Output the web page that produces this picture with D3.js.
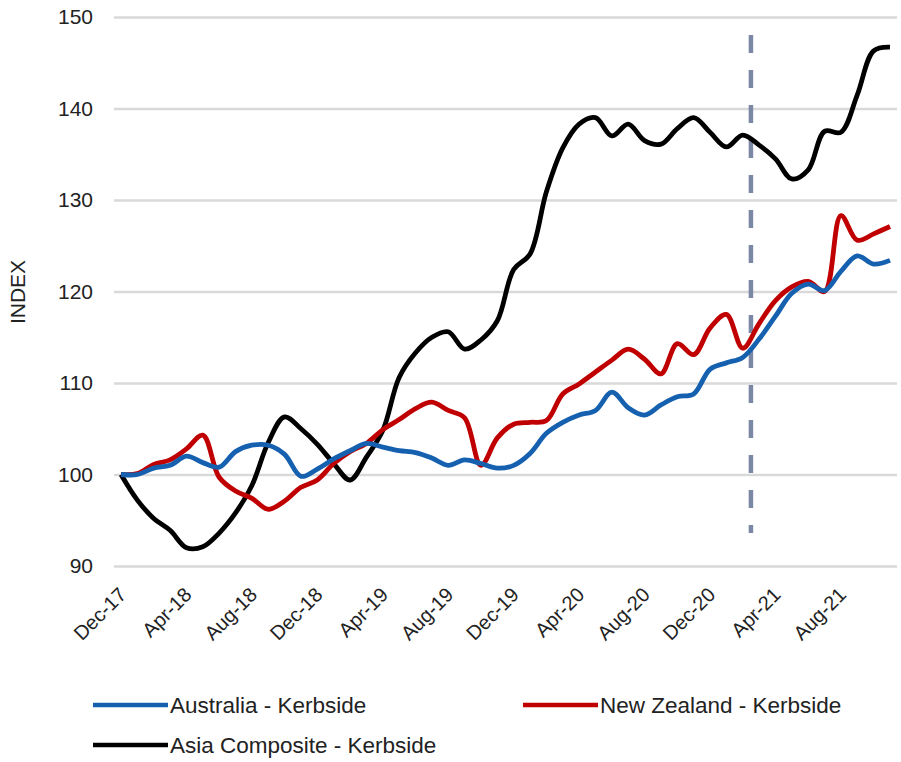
<!DOCTYPE html>
<html>
<head>
<meta charset="utf-8">
<script src="https://cdn.jsdelivr.net/npm/d3@7"></script>
<style>
  body { margin: 0; background: #fff; }
  text { font-family: "Liberation Sans", Arial, sans-serif; fill: #222; }
</style>
</head>
<body>
<svg id="chart"></svg>
<script>
const width = 901;
const height = 762;

// monthly categories, Dec-17 .. Nov-21
const months = [
    "Dec-17", "Jan-18", "Feb-18", "Mar-18", "Apr-18", "May-18", "Jun-18", "Jul-18", "Aug-18", "Sep-18", "Oct-18", "Nov-18",
    "Dec-18", "Jan-19", "Feb-19", "Mar-19", "Apr-19", "May-19", "Jun-19", "Jul-19", "Aug-19", "Sep-19", "Oct-19", "Nov-19",
    "Dec-19", "Jan-20", "Feb-20", "Mar-20", "Apr-20", "May-20", "Jun-20", "Jul-20", "Aug-20", "Sep-20", "Oct-20", "Nov-20",
    "Dec-20", "Jan-21", "Feb-21", "Mar-21", "Apr-21", "May-21", "Jun-21", "Jul-21", "Aug-21", "Sep-21", "Oct-21", "Nov-21"
];

const australia = [
    100, 100, 100.7, 101, 102, 101.3, 100.8, 102.5, 103.2, 103.2,
    102.2, 99.8, 100.6, 101.7, 102.6, 103.4, 103.0, 102.6, 102.4, 101.8,
    101.0, 101.6, 101.2, 100.7, 101.0, 102.3, 104.5, 105.7, 106.5, 107.0,
    109.0, 107.3, 106.5, 107.6, 108.5, 108.8, 111.5, 112.2, 112.8, 114.8,
    117.3, 119.8, 120.8, 120.1, 122.2, 123.9, 123.0, 123.4
];

const newZealand = [
    100, 100.1, 101.1, 101.6, 102.8, 104.3, 99.7, 98.2, 97.4, 96.2,
    97.1, 98.6, 99.4, 101.2, 102.5, 103.4, 104.9, 106.0, 107.2, 107.9,
    107.0, 106.2, 101.0, 104.0, 105.5, 105.7, 105.9, 108.8, 109.9, 111.2,
    112.5, 113.7, 112.6, 111.0, 114.3, 113.1, 116.0, 117.5, 113.8, 116.5,
    119.0, 120.5, 121.1, 120.0, 128.3, 125.6, 126.3, 127.1
];

const asiaComposite = [
    100, 97.2, 95.2, 93.9, 92.0, 92.1, 93.6, 95.8, 98.8, 103.5,
    106.3, 105.0, 103.3, 101.2, 99.4, 101.9, 104.8, 110.6, 113.3, 115.0,
    115.6, 113.7, 114.7, 116.8, 122.4, 124.1, 130.9, 135.7, 138.3, 139.0,
    137.0, 138.3, 136.5, 136.1, 137.8, 139.0, 137.4, 135.8, 137.1, 136.0,
    134.5, 132.3, 133.3, 137.5, 137.4, 141.5, 146.3, 146.7
];

const xTickLabels = ["Dec-17", "Apr-18", "Aug-18", "Dec-18", "Apr-19", "Aug-19", "Dec-19", "Apr-20", "Aug-20", "Dec-20", "Apr-21", "Aug-21"];
const yTicks = [90, 100, 110, 120, 130, 140, 150];

// vertical dashed marker sits between these two months
const markerBetween = ["Feb-21", "Mar-21"];

const series = [
    { name: "Australia - Kerbside", values: australia, color: "#1660b0" },
    { name: "New Zealand - Kerbside", values: newZealand, color: "#c00000" },
    { name: "Asia Composite - Kerbside", values: asiaComposite, color: "#000000" }
];

const plot = { left: 114, right: 897, top: 17, bottom: 566 };

const x = d3.scaleLinear()
    .domain([0, months.length - 1])
    .range([121, 890]);

const y = d3.scaleLinear()
    .domain([90, 150])
    .range([plot.bottom, plot.top]);

const svg = d3.select("#chart").attr("width", width).attr("height", height);

// gridlines + y labels
const yAxis = svg.append("g")
    .attr("transform", `translate(${plot.left},0)`)
    .call(d3.axisLeft(y).tickValues(yTicks).tickSize(-(plot.right - plot.left)).tickPadding(21).tickFormat(d3.format("d")));
yAxis.select(".domain").remove();
yAxis.selectAll(".tick line").attr("stroke", "#d9d9d9").attr("stroke-width", 2.5);
yAxis.selectAll(".tick text").style("font-size", "21px").attr("fill", "#222");

svg.append("text")
    .attr("transform", `translate(25,292) rotate(-90)`)
    .attr("text-anchor", "middle")
    .style("font-size", "21px")
    .text("INDEX");

// x labels
const xAxis = svg.append("g")
    .attr("transform", `translate(0,${plot.bottom})`)
    .call(d3.axisBottom(x).tickValues(xTickLabels.map(m => months.indexOf(m))).tickSize(0).tickFormat(i => months[i]));
xAxis.select(".domain").remove();
xAxis.selectAll(".tick text")
    .style("font-size", "20px")
    .attr("fill", "#222")
    .attr("text-anchor", "end")
    .attr("dy", null)
    .attr("y", 0)
    .attr("transform", "translate(6,30) rotate(-45)");

// dashed marker
const markerX = (x(months.indexOf(markerBetween[0])) + x(months.indexOf(markerBetween[1]))) / 2;
svg.append("line")
    .attr("x1", markerX).attr("x2", markerX)
    .attr("y1", 35).attr("y2", 533)
    .attr("stroke", "#7a88a6")
    .attr("stroke-width", 4.5)
    .attr("stroke-dasharray", "18,17");

const line = d3.line()
    .x((d, i) => x(i))
    .y(d => y(d))
    .curve(d3.curveCatmullRom);

// draw black first so colored lines stay visible like the original
svg.selectAll(".series")
    .data(series.slice().reverse())
    .enter().append("path")
    .attr("class", "series")
    .attr("fill", "none")
    .attr("stroke", d => d.color)
    .attr("stroke-width", 4.8)
    .attr("stroke-linejoin", "round")
    .attr("d", d => line(d.values));

// legend
const legendPos = [[93, 705], [523, 705], [93, 745]];
const legend = svg.selectAll(".legend-item")
    .data(series)
    .enter().append("g")
    .attr("class", "legend-item")
    .attr("transform", (d, i) => `translate(${legendPos[i][0]},${legendPos[i][1]})`);

legend.append("line")
    .attr("x1", 0).attr("x2", 75)
    .attr("stroke", d => d.color)
    .attr("stroke-width", 4.5);

legend.append("text")
    .attr("x", 77)
    .attr("y", 8)
    .style("font-size", "22.5px")
    .text(d => d.name);
</script>
</body>
</html>
